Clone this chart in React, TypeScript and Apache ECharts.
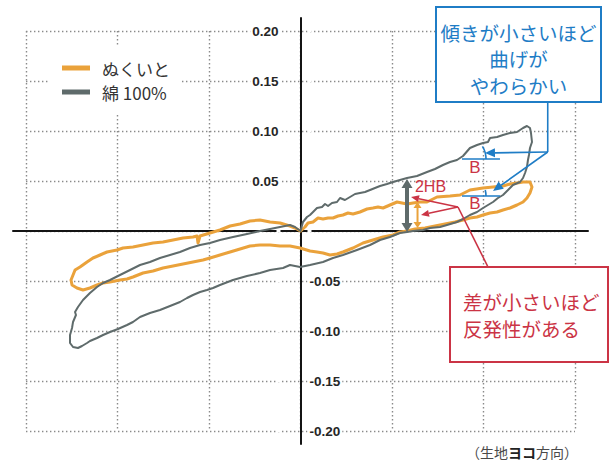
import React, { useEffect, useRef } from "react";
import * as echarts from "echarts";

// KES bending hysteresis loops: curvature K (cm⁻¹) against bending moment M.
// Each loop is traced in three legs: 0 → +Kmax, +Kmax → −Kmax, −Kmax → 0.

const SERIES_NAMES = ["ぬくいと", "綿 100%"];

const nukuitoRise: [number, number][] = [
  [0, 0], [0.049, 0.004], [0.082, 0.008], [0.137, 0.009], [0.191, 0.013], [0.246, 0.012],
  [0.301, 0.013], [0.355, 0.013], [0.41, 0.015], [0.464, 0.016], [0.519, 0.018], [0.574, 0.017],
  [0.65, 0.019], [0.727, 0.022], [0.792, 0.023], [0.847, 0.024], [0.902, 0.023], [0.978, 0.026],
  [1.055, 0.029], [1.109, 0.028], [1.164, 0.027], [1.23, 0.028], [1.306, 0.029], [1.383, 0.029],
  [1.492, 0.034], [1.634, 0.035], [1.743, 0.036], [1.852, 0.041], [1.995, 0.043], [2.104, 0.044],
  [2.213, 0.045], [2.29, 0.047], [2.366, 0.048], [2.432, 0.049], [2.508, 0.049],
];
const nukuitoReverse: [number, number][] = [
  [2.53, 0.044], [2.508, 0.038], [2.475, 0.033], [2.432, 0.029], [2.366, 0.026], [2.29, 0.023],
  [2.213, 0.021], [2.148, 0.019], [2.071, 0.018], [1.995, 0.016], [1.929, 0.014], [1.852, 0.013],
  [1.776, 0.011], [1.689, 0.009], [1.579, 0.007], [1.47, 0.005], [1.361, 0.003], [1.251, 0.002],
  [1.164, 0.0], [1.087, -0.001], [1.011, -0.004], [0.902, -0.006], [0.792, -0.009], [0.683, -0.012],
  [0.574, -0.017], [0.464, -0.021], [0.399, -0.023], [0.322, -0.024], [0.246, -0.022], [0.18, -0.021],
  [0.104, -0.02], [-0.005, -0.017], [-0.115, -0.015], [-0.224, -0.015], [-0.333, -0.014],
  [-0.443, -0.014], [-0.552, -0.015], [-0.661, -0.018], [-0.77, -0.021], [-0.88, -0.024],
  [-0.989, -0.027], [-1.066, -0.029], [-1.175, -0.031], [-1.284, -0.033], [-1.393, -0.035],
  [-1.503, -0.037], [-1.612, -0.04], [-1.721, -0.042], [-1.831, -0.046], [-1.896, -0.048],
  [-1.973, -0.049], [-2.082, -0.051], [-2.158, -0.052], [-2.224, -0.054], [-2.301, -0.057],
  [-2.377, -0.059], [-2.443, -0.057], [-2.497, -0.054], [-2.508, -0.049],
];
const nukuitoReturn: [number, number][] = [
  [-2.486, -0.044], [-2.464, -0.039], [-2.41, -0.036], [-2.333, -0.031], [-2.268, -0.027],
  [-2.191, -0.024], [-2.115, -0.021], [-2.005, -0.019], [-1.94, -0.017], [-1.831, -0.016],
  [-1.721, -0.014], [-1.612, -0.012], [-1.503, -0.011], [-1.393, -0.009], [-1.284, -0.007],
  [-1.175, -0.006], [-1.131, -0.005], [-1.12, -0.012], [-1.098, -0.005], [-0.989, -0.002],
  [-0.88, 0.001], [-0.77, 0.005], [-0.661, 0.007], [-0.552, 0.01], [-0.443, 0.011],
  [-0.333, 0.009], [-0.224, 0.008], [-0.115, 0.005], [-0.06, 0.003], [0, 0],
];

const cottonRise: [number, number][] = [
  [0, 0], [0.027, 0.009], [0.071, 0.014], [0.104, 0.016], [0.137, 0.019], [0.18, 0.023],
  [0.235, 0.024], [0.268, 0.027], [0.301, 0.025], [0.344, 0.028], [0.399, 0.029], [0.432, 0.033],
  [0.486, 0.031], [0.541, 0.034], [0.596, 0.037], [0.65, 0.038], [0.705, 0.039], [0.76, 0.041],
  [0.814, 0.043], [0.869, 0.045], [0.945, 0.047], [1.011, 0.049], [1.087, 0.051], [1.164, 0.053],
  [1.273, 0.055], [1.383, 0.059], [1.47, 0.062], [1.557, 0.066], [1.634, 0.069], [1.71, 0.071],
  [1.776, 0.075], [1.852, 0.083], [1.929, 0.086], [1.995, 0.088], [2.049, 0.089], [2.071, 0.093],
  [2.148, 0.094], [2.213, 0.096], [2.29, 0.098], [2.366, 0.099], [2.432, 0.103], [2.475, 0.105],
];
const cottonReverse: [number, number][] = [
  [2.508, 0.103], [2.519, 0.098], [2.53, 0.089], [2.508, 0.083], [2.497, 0.076], [2.486, 0.071],
  [2.475, 0.064], [2.454, 0.058], [2.432, 0.053], [2.399, 0.049], [2.322, 0.046], [2.268, 0.041],
  [2.213, 0.036], [2.158, 0.033], [2.104, 0.029], [2.049, 0.026], [1.995, 0.023], [1.929, 0.019],
  [1.852, 0.016], [1.776, 0.012], [1.71, 0.009], [1.601, 0.006], [1.525, 0.004], [1.415, 0.003],
  [1.339, 0.001], [1.23, 0.0], [1.164, -0.001], [1.087, -0.002], [0.978, -0.006], [0.869, -0.009],
  [0.76, -0.014], [0.617, -0.019], [0.464, -0.024], [0.355, -0.027], [0.246, -0.031], [0.104, -0.034],
  [-0.005, -0.036], [-0.115, -0.034], [-0.191, -0.037], [-0.333, -0.039], [-0.443, -0.042],
  [-0.585, -0.045], [-0.738, -0.049], [-0.88, -0.054], [-0.956, -0.057], [-1.022, -0.059],
  [-1.098, -0.061], [-1.175, -0.064], [-1.24, -0.067], [-1.317, -0.071], [-1.426, -0.075],
  [-1.536, -0.079], [-1.645, -0.082], [-1.754, -0.086], [-1.831, -0.091], [-1.896, -0.094],
  [-1.995, -0.098], [-2.082, -0.101], [-2.158, -0.104], [-2.224, -0.107], [-2.301, -0.11],
  [-2.333, -0.112], [-2.388, -0.115], [-2.432, -0.117], [-2.486, -0.116], [-2.519, -0.112],
  [-2.519, -0.104],
];
const cottonReturn: [number, number][] = [
  [-2.497, -0.097], [-2.486, -0.091], [-2.454, -0.084], [-2.464, -0.081], [-2.432, -0.076],
  [-2.377, -0.069], [-2.301, -0.062], [-2.224, -0.056], [-2.158, -0.052], [-2.082, -0.049],
  [-1.973, -0.044], [-1.863, -0.039], [-1.754, -0.034], [-1.645, -0.031], [-1.536, -0.027],
  [-1.426, -0.024], [-1.317, -0.021], [-1.208, -0.017], [-1.098, -0.014], [-0.989, -0.012],
  [-0.88, -0.009], [-0.738, -0.006], [-0.585, -0.003], [-0.443, 0.0], [-0.333, 0.002],
  [-0.224, 0.004], [-0.115, 0.006], [-0.06, 0.004], [0, 0],
];

// Axis extents
const K_RANGE = [-3, 3];
const K_STEP = 1;
const M_RANGE = [-0.2, 0.2];
const M_STEP = 0.05;

// Annotation anchors in (K, M)
const HB_COTTON = { k: 1.164, top: 0.052, bottom: -0.001 };
const HB_NUKUITO = { k: 1.279, top: 0.029, bottom: 0.003 };
const HB_LABEL: [number, number] = [1.251, 0.045];
const RED_HUB: [number, number] = [1.721, 0.024];
const RED_TIPS: [number, number][] = [[1.208, 0.034], [1.317, 0.016]];
const BLUE_HUB: [number, number] = [2.702, 0.079];
const BLUE_TIPS: [number, number][] = [[2.016, 0.078], [2.104, 0.04]];
const SLOPE_GUIDES = [
  { m: 0.072, k0: 1.765, k1: 2.18, sweep: 0.55 },
  { m: 0.035, k0: 1.765, k1: 2.18, sweep: 0.25 },
];
const B_LABELS: [number, number][] = [[1.907, 0.064], [1.907, 0.028]];

const ORANGE = "#eaa23b";
const GRAY = "#5f6b6b";
const BLUE = "#1f7dc6";
const RED = "#cb3445";
const CJK = '"Noto Sans CJK JP", "Noto Sans", sans-serif';
const LATIN = '"Liberation Sans", Arial, sans-serif';

const GRID = { left: 26, top: 31, width: 549, height: 400 };
const FRAME = { left: 13, top: 18, width: 575, height: 426 };
const BLUE_BOX = { x: 436, y: 7, w: 165, h: 95 };
const RED_BOX = { x: 450, y: 267, w: 158, h: 95 };

const dotted = { color: "#8a8a8a", width: 1.4, type: [1.4, 2.6] };

function buildOption() {
  const axisZeroX = GRID.left + (GRID.width * (0 - K_RANGE[0])) / (K_RANGE[1] - K_RANGE[0]);
  const labelStyle = {
    fontFamily: LATIN,
    fontSize: 13.5,
    fontWeight: "bold" as const,
    color: "#262626",
    backgroundColor: "#fff",
    padding: [1, 2],
  };
  return {
    animation: false,
    backgroundColor: "#fff",
    grid: [
      { left: GRID.left, top: GRID.top, width: GRID.width, height: GRID.height },
      { left: FRAME.left, top: FRAME.top, width: FRAME.width, height: FRAME.height },
    ],
    xAxis: [
      {
        gridIndex: 0, type: "value", min: K_RANGE[0], max: K_RANGE[1], interval: K_STEP,
        axisLine: { show: false, onZero: false }, axisTick: { show: false },
        axisLabel: { show: false }, splitLine: { show: true, lineStyle: dotted },
      },
      {
        gridIndex: 1, type: "value", min: -1, max: 1, z: 1,
        axisLine: { show: true, onZero: true, lineStyle: { color: "#141414", width: 2 } },
        axisTick: { show: false }, axisLabel: { show: false }, splitLine: { show: false },
      },
    ],
    yAxis: [
      {
        gridIndex: 0, type: "value", min: M_RANGE[0], max: M_RANGE[1], interval: M_STEP,
        axisLine: { show: false, onZero: false }, axisTick: { show: false },
        axisLabel: { show: false }, splitLine: { show: true, lineStyle: dotted },
      },
      {
        gridIndex: 0, type: "value", min: M_RANGE[0], max: M_RANGE[1], interval: M_STEP,
        position: "left", offset: -(axisZeroX - GRID.left), z: 5,
        axisLine: { show: false, onZero: false }, axisTick: { show: false }, splitLine: { show: false },
        axisLabel: {
          ...labelStyle, margin: 20,
          formatter: (v: number) => (v > 1e-9 ? v.toFixed(2) : ""),
        },
      },
      {
        gridIndex: 0, type: "value", min: M_RANGE[0], max: M_RANGE[1], interval: M_STEP,
        position: "left", offset: -(axisZeroX - GRID.left), z: 5,
        axisLine: { show: false, onZero: false }, axisTick: { show: false }, splitLine: { show: false },
        axisLabel: {
          ...labelStyle, margin: 7, inside: true,
          formatter: (v: number) => (v < -1e-9 ? v.toFixed(2) : ""),
        },
      },
      {
        gridIndex: 1, type: "value", min: -1, max: 1, z: 1,
        axisLine: { show: true, onZero: true, lineStyle: { color: "#141414", width: 2 } },
        axisTick: { show: false }, axisLabel: { show: false }, splitLine: { show: false },
      },
    ],
    legend: {
      orient: "vertical", left: 48, top: 45,
      padding: [14, 10, 12, 14],
      backgroundColor: "#fff",
      itemWidth: 28, itemHeight: 5, itemGap: 6,
      icon: "rect",
      selectedMode: false,
      textStyle: { fontSize: 17, color: "#333", fontFamily: CJK, padding: [0, 0, 0, 7], lineHeight: 18 },
      data: SERIES_NAMES,
    },
    series: [
      {
        name: SERIES_NAMES[0], type: "line", xAxisIndex: 0, yAxisIndex: 0,
        data: [...nukuitoRise, ...nukuitoReverse, ...nukuitoReturn],
        symbol: "none", showSymbol: false, z: 2,
        itemStyle: { color: ORANGE },
        lineStyle: { color: ORANGE, width: 3, join: "round", cap: "round" },
      },
      {
        name: SERIES_NAMES[1], type: "line", xAxisIndex: 0, yAxisIndex: 0,
        data: [...cottonRise, ...cottonReverse, ...cottonReturn],
        symbol: "none", showSymbol: false, z: 3,
        itemStyle: { color: GRAY },
        lineStyle: { color: GRAY, width: 2, join: "round", cap: "round" },
      },
    ],
  };
}

type Pt = number[];

function head(from: Pt, tip: Pt, len: number, half: number) {
  const dx = tip[0] - from[0];
  const dy = tip[1] - from[1];
  const d = Math.hypot(dx, dy) || 1;
  const ux = dx / d;
  const uy = dy / d;
  const bx = tip[0] - ux * len;
  const by = tip[1] - uy * len;
  return {
    base: [bx, by],
    points: [
      [tip[0], tip[1]],
      [bx - uy * half, by + ux * half],
      [bx + uy * half, by - ux * half],
    ],
  };
}

function line(a: Pt, b: Pt, color: string, width: number) {
  return {
    type: "line", z: 100, silent: true,
    shape: { x1: a[0], y1: a[1], x2: b[0], y2: b[1] },
    style: { stroke: color, lineWidth: width },
  };
}

function poly(points: Pt[], color: string) {
  return { type: "polygon", z: 100, silent: true, shape: { points }, style: { fill: color } };
}

function arrow(from: Pt, tip: Pt, color: string, width: number, len: number, half: number) {
  const h = head(from, tip, len, half);
  return [line(from, h.base, color, width), poly(h.points, color)];
}

function doubleArrow(a: Pt, b: Pt, color: string, width: number, len: number, half: number) {
  const ha = head(b, a, len, half);
  const hb = head(a, b, len, half);
  return [line(ha.base, hb.base, color, width), poly(ha.points, color), poly(hb.points, color)];
}

function text(x: number, y: number, str: string, color: string, size: number, family: string, align = "left") {
  return {
    type: "text", z: 101, silent: true, x, y,
    style: {
      text: str, fill: color, fontSize: size, fontFamily: family,
      lineHeight: Math.round(size * 1.1), align, verticalAlign: "middle",
    },
  };
}

function buildAnnotations(px: (k: number, m: number) => Pt) {
  const els: any[] = [];

  // 2HB spans of both loops
  els.push(...doubleArrow(px(HB_COTTON.k, HB_COTTON.top), px(HB_COTTON.k, HB_COTTON.bottom), GRAY, 4, 9, 5.5));
  els.push(...doubleArrow(px(HB_NUKUITO.k, HB_NUKUITO.top), px(HB_NUKUITO.k, HB_NUKUITO.bottom), ORANGE, 2, 6, 4));
  const hbl = px(HB_LABEL[0], HB_LABEL[1]);
  els.push(text(hbl[0], hbl[1], "2HB", RED, 16, LATIN));

  // slope guides (B) with angle arcs
  SLOPE_GUIDES.forEach((g) => {
    const a = px(g.k0, g.m);
    const b = px(g.k1, g.m);
    els.push(line(a, b, BLUE, 1.6));
    els.push({
      type: "arc", z: 100, silent: true,
      shape: { cx: a[0], cy: a[1], r: 24, startAngle: -g.sweep, endAngle: 0, clockwise: true },
      style: { stroke: BLUE, lineWidth: 1.6, fill: "none" },
    });
  });
  B_LABELS.forEach((p) => {
    const q = px(p[0], p[1]);
    els.push(text(q[0], q[1], "B", RED, 17, LATIN, "center"));
  });

  // blue callout
  const hub = px(BLUE_HUB[0], BLUE_HUB[1]);
  els.push(line([hub[0], BLUE_BOX.y + BLUE_BOX.h], hub, BLUE, 1.6));
  BLUE_TIPS.forEach((t) => els.push(...arrow(hub, px(t[0], t[1]), BLUE, 1.6, 10, 4.5)));
  els.push({
    type: "rect", z: 100, silent: true,
    shape: { x: BLUE_BOX.x, y: BLUE_BOX.y, width: BLUE_BOX.w, height: BLUE_BOX.h },
    style: { fill: "#fff", stroke: BLUE, lineWidth: 2 },
  });
  const bc = BLUE_BOX.x + BLUE_BOX.w / 2;
  ["傾きが小さいほど", "曲げが", "やわらかい"].forEach((s, i) =>
    els.push(text(bc, BLUE_BOX.y + 25 + i * 26.5, s, BLUE, 19.5, CJK, "center"))
  );

  // red callout
  const rh = px(RED_HUB[0], RED_HUB[1]);
  els.push(line([RED_BOX.x + 38, RED_BOX.y], rh, RED, 1.6));
  RED_TIPS.forEach((t) => els.push(...arrow(rh, px(t[0], t[1]), RED, 1.6, 8, 3.5)));
  els.push({
    type: "rect", z: 100, silent: true,
    shape: { x: RED_BOX.x, y: RED_BOX.y, width: RED_BOX.w, height: RED_BOX.h },
    style: { fill: "#fff", stroke: RED, lineWidth: 2 },
  });
  ["差が小さいほど", "反発性がある"].forEach((s, i) =>
    els.push(text(RED_BOX.x + 13, RED_BOX.y + 34 + i * 27, s, RED, 19.5, CJK))
  );

  // direction caption
  els.push({
    type: "text", z: 101, silent: true, x: 578, y: 452,
    style: {
      text: "{a|（生地}{b|ヨコ}{a|方向）}",
      align: "right", verticalAlign: "middle",
      rich: {
        a: { fontSize: 14, lineHeight: 16, fontFamily: CJK, fill: "#4a4a4a" },
        b: { fontSize: 14, lineHeight: 16, fontFamily: CJK, fontWeight: "bold", fill: "#222" },
      },
    },
  });

  return els;
}

export default function App() {
  const ref = useRef<HTMLDivElement>(null);
  useEffect(() => {
    const el = ref.current;
    if (!el) return;
    const chart = echarts.init(el, null, { renderer: "svg" });
    chart.setOption(buildOption() as any);
    const px = (k: number, m: number) => chart.convertToPixel({ seriesIndex: 0 }, [k, m]) as number[];
    chart.setOption({ graphic: buildAnnotations(px) } as any);
    return () => chart.dispose();
  }, []);
  return (
    <div
      ref={ref}
      style={{ position: "absolute", left: 0, top: 0, width: 614, height: 462, background: "#fff" }}
    />
  );
}
